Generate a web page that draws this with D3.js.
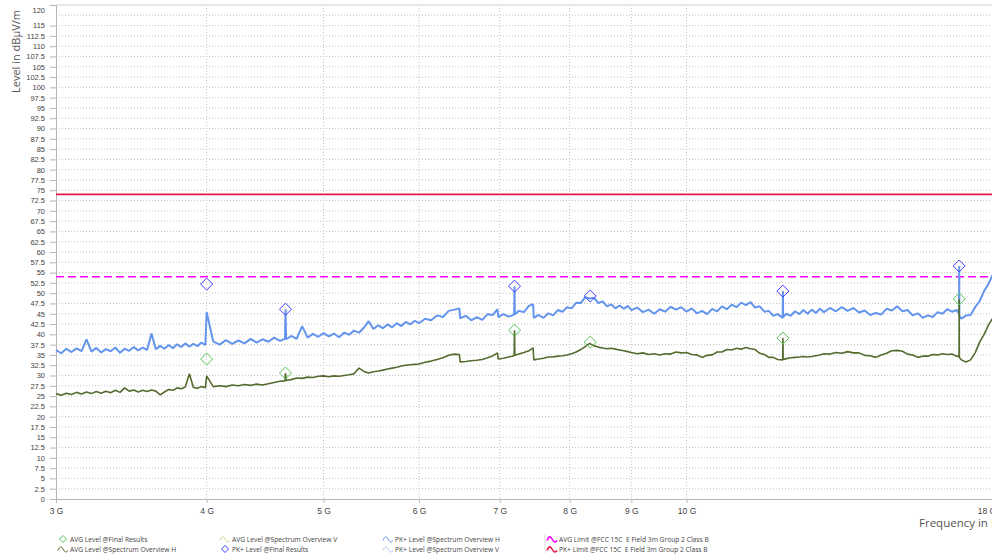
<!DOCTYPE html>
<html>
<head>
<meta charset="utf-8">
<title>Radiated emission 3 - 18 GHz</title>
<script src="https://cdn.jsdelivr.net/npm/d3@7"></script>
<style>
  body { margin: 0; background: #fff; }
  svg { display: block; font-family: "Liberation Sans", Arial, sans-serif; }
  .grid line { stroke: #c4c4c4; stroke-dasharray: 1, 2; }
  .axis text { fill: #444; font-size: 7.5px; }
  .xaxis text { font-size: 8.5px; }
  .axis line, .axis path { stroke: #b5b5b5; }
  .legend text { font-family: "Open Sans", sans-serif; font-size: 6.7px; fill: #444; white-space: pre; }
</style>
</head>
<body>
<svg id="chart" width="992" height="556"></svg>
<script>
// sweep frequencies in GHz (shared by both overview traces)
var sweepGHz = [
  3.00,3.03,3.06,3.09,3.12,3.15,3.18,3.21,3.24,3.27,3.30,3.33,3.36,3.39,3.42,3.45,3.48,3.51,3.54,3.57,3.60,3.63,3.66,3.69,3.72,3.75,3.78,3.81,3.84,3.87,3.90,3.93,3.96,3.99,
  4.00,4.05,4.10,4.15,4.20,4.25,4.30,4.35,4.40,4.45,4.50,4.55,4.60,4.645,4.65,4.655,4.70,4.75,4.80,4.85,4.90,4.95,5.00,5.05,5.10,5.15,5.20,5.25,5.30,5.35,5.40,5.45,5.50,5.55,5.60,5.65,5.70,5.75,5.80,5.85,5.90,5.95,
  6.00,6.07,6.14,6.21,6.28,6.35,6.42,6.48,6.49,6.56,6.63,6.70,6.77,6.84,6.91,6.97,6.98,7.05,7.12,7.195,7.20,7.205,7.26,7.33,7.40,7.46,7.47,7.54,7.61,7.68,7.75,7.82,7.89,7.96,8.03,8.10,8.17,8.24,8.31,8.38,8.45,8.52,8.59,8.66,8.73,8.80,8.87,8.94,
  9.0,9.1,9.2,9.3,9.4,9.5,9.6,9.7,9.8,9.9,10.0,10.1,10.2,10.3,10.4,10.5,10.6,10.7,10.8,10.9,11.0,11.1,11.2,11.3,11.4,11.5,11.6,11.7,11.8,11.9,12.015,12.02,12.025,12.1,12.2,12.3,12.4,12.5,12.6,12.7,12.8,12.9,
  13.0,13.15,13.3,13.45,13.6,13.75,13.9,14.05,14.2,14.35,14.5,14.65,14.8,14.95,15.1,15.25,15.4,15.55,15.7,15.85,16.0,16.15,16.3,16.45,16.6,16.75,16.825,16.83,16.835,16.9,17.05,17.2,17.35,17.5,17.65,17.8,17.95,18.0
];

// PK+ Level @Spectrum Overview H (dBµV/m)
var pkH = [
  36.2,35.4,36.5,35.7,36.6,35.9,38.8,35.8,36.7,35.6,36.4,35.9,36.8,35.5,36.5,36.0,36.9,36.1,36.8,36.2,40.2,36.4,37.2,36.5,37.4,36.6,37.6,36.9,37.8,37.0,37.7,37.1,38.0,37.4,
  45.4,38.3,37.5,38.6,37.7,38.5,37.8,38.9,38.0,38.8,38.2,39.2,38.4,38.9,46.1,38.8,39.6,38.9,42.0,39.2,40.1,39.4,40.3,39.5,40.2,39.3,40.4,39.9,40.9,40.4,41.6,43.2,41.3,42.2,41.5,42.4,41.7,42.7,42.0,43.0,42.4,43.3,
  42.7,43.8,43.4,44.6,44.2,45.7,46.0,46.3,43.9,44.5,43.4,44.2,43.5,44.9,44.7,46.1,44.2,44.9,44.3,44.8,51.7,44.9,45.7,45.4,46.9,47.3,44.0,44.7,44.0,45.1,44.6,45.9,45.5,46.6,46.3,47.7,47.6,49.0,48.7,48.9,47.6,48.0,46.8,47.3,46.3,47.0,46.2,46.9,
  45.9,46.5,45.4,46.0,45.0,46.1,45.5,46.7,46.0,46.6,45.5,46.3,45.1,45.7,44.9,46.2,45.6,46.8,46.1,47.2,46.6,47.7,47.1,47.8,46.5,46.8,45.5,45.7,44.5,44.9,44.0,50.5,44.2,45.0,44.5,45.6,44.9,45.9,45.0,46.0,45.2,46.2,
  45.4,46.4,45.6,46.6,45.7,46.4,45.3,45.8,44.7,45.2,44.8,46.2,45.8,46.8,45.6,45.9,44.6,45.1,44.0,44.6,44.2,45.4,45.0,46.1,45.5,45.9,45.0,56.6,44.5,43.8,44.6,44.7,46.6,48.1,50.5,52.3,54.6,55.0
];

// AVG Level @Spectrum Overview H (dBµV/m)
var avgH = [
  25.6,25.2,25.7,25.4,25.9,25.5,26.0,25.6,26.1,25.7,26.2,25.8,26.4,25.9,27.0,26.2,26.5,26.0,26.4,26.1,26.5,26.2,25.3,26.0,26.6,26.4,27.0,26.8,27.2,30.4,27.1,26.9,27.3,27.0,
  29.9,27.3,27.5,27.3,27.7,27.5,27.8,27.6,27.9,27.7,28.0,28.3,28.6,28.7,30.6,28.8,29.0,29.4,29.3,29.6,29.5,29.8,29.9,29.7,29.9,29.8,30.0,30.2,30.4,31.8,31.0,30.6,30.9,31.1,31.3,31.6,31.8,32.0,32.3,32.5,32.6,32.7,
  32.8,33.2,33.5,33.9,34.3,34.9,35.2,35.1,33.3,33.4,33.6,33.7,33.9,34.3,34.8,35.5,34.0,34.2,34.5,34.8,41.0,34.9,35.2,35.6,36.0,36.7,33.8,34.0,34.2,34.5,34.5,34.7,34.8,35.0,35.3,35.7,36.3,37.0,37.8,37.2,36.9,36.7,36.5,36.6,36.4,36.2,36.0,35.8,
  35.6,35.3,35.5,35.1,35.3,35.0,35.3,35.2,35.7,35.5,35.6,35.1,35.0,34.4,34.9,35.0,35.7,35.7,36.3,36.2,36.6,36.4,36.8,36.5,36.3,35.4,35.1,34.4,34.4,33.9,33.8,39.1,33.9,34.1,34.3,34.4,34.5,34.6,34.5,34.6,34.8,35.0,
  35.3,35.2,35.6,35.4,35.8,35.5,35.5,34.9,34.8,34.4,35.0,35.4,36.0,36.1,35.9,35.2,35.0,34.4,34.7,34.7,35.1,35.0,35.3,35.1,35.2,34.7,34.6,48.6,34.4,33.8,33.3,33.8,35.5,38.1,40.0,42.3,44.0,44.4
];

// final results
var finalGHz = [4.00, 4.65, 7.20, 8.32, 12.02, 16.83];
var finalPk  = [52.2, 46.1, 51.7, 49.3, 50.5, 56.6];
var finalAvg = [34.0, 30.6, 41.0, 38.1, 39.1, 48.6];

// FCC 15C limits
var limitGHz = [3, 18];
var pkLimit  = [74, 74];
var avgLimit = [54, 54];

var freqTicks = [3, 4, 5, 6, 7, 8, 9, 10, 18];
var levelTicks = [0,2.5,5,7.5,10,12.5,15,17.5,20,22.5,25,27.5,30,32.5,35,37.5,40,42.5,45,47.5,50,52.5,55,57.5,60,62.5,65,67.5,70,72.5,75,77.5,80,82.5,85,87.5,90,92.5,95,97.5,100,102.5,105,107.5,110,112.5,115,120];
var gridLevels = [2.5,5,7.5,10,12.5,15,17.5,20,22.5,25,27.5,30,32.5,35,37.5,40,42.5,45,47.5,50,52.5,55,57.5,60,62.5,65,67.5,70,72.5,75,77.5,80,82.5,85,87.5,90,92.5,95,97.5,100,102.5,105,107.5,110,112.5,115,117.5];

var legendLabels = [
  "AVG Level @Final Results", "AVG Level @Spectrum Overview H",
  "AVG Level @Spectrum Overview V", "PK+ Level @Final Results",
  "PK+ Level @Spectrum Overview H", "PK+ Level @Spectrum Overview V",
  "AVG Limit @FCC 15C  E Field 3m Group 2 Class B", "PK+ Limit @FCC 15C  E Field 3m Group 2 Class B"
];
var legendKinds  = ["diamond", "wave", "wave", "diamond", "wave", "wave", "limit", "limit"];
var legendColors = ["#55c455", "#556b2f", "#c9d89a", "#3c3cff", "#6495ed", "#b7cdf3", "#ff00ff", "#e8174a"];

var svg = d3.select("#chart");
var plotL = 56, plotR = 994.4, plotT = 5, plotB = 499;

var x = d3.scaleLog().domain([3, 18]).range([plotL, plotR]);
var y = d3.scaleLinear().domain([0, 120]).range([plotB, plotT]);

// grid
svg.append("g").attr("class", "grid")
  .selectAll("line").data(gridLevels).enter().append("line")
  .attr("x1", plotL).attr("x2", 992)
  .attr("y1", function(d) { return y(d); }).attr("y2", function(d) { return y(d); });
svg.append("g").attr("class", "grid")
  .selectAll("line").data(freqTicks.filter(function(d) { return d > 3 && d < 18; })).enter().append("line")
  .attr("x1", function(d) { return x(d); }).attr("x2", function(d) { return x(d); })
  .attr("y1", plotT).attr("y2", plotB);

// frame
svg.append("line").attr("x1", plotL).attr("x2", 992).attr("y1", plotT).attr("y2", plotT).attr("stroke", "#cfcfcf");

// axes
var yAxis = svg.append("g").attr("class", "axis")
  .attr("transform", "translate(" + plotL + ",0)")
  .call(d3.axisLeft(y).tickValues(levelTicks).tickSize(6).tickPadding(5).tickFormat(d3.format("")));
yAxis.selectAll(".tick").filter(function(d) { return d === 120; }).each(function() {
  d3.select(this).select("line").remove();
  d3.select(this).select("text").attr("dy", "0.95em");
});

var xAxis = svg.append("g").attr("class", "axis xaxis")
  .attr("transform", "translate(0," + plotB + ")")
  .call(d3.axisBottom(x).tickValues(freqTicks).tickSize(4).tickPadding(5)
    .tickFormat(function(d) { return d + " G"; }));
xAxis.selectAll(".tick").filter(function(d) { return d === 18; }).select("text").attr("dx", "-8");

svg.append("text")
  .attr("transform", "translate(20,10) rotate(-90)")
  .attr("text-anchor", "end")
  .attr("font-family", "Open Sans, sans-serif")
  .attr("font-size", 11).attr("fill", "#555")
  .text("Level in dBµV/m");
svg.append("text")
  .attr("x", 919).attr("y", 527)
  .attr("font-family", "Open Sans, sans-serif")
  .attr("font-size", 11.5).attr("fill", "#555")
  .text("Frequency in Hz");

// limits
var lim = d3.line().x(function(d) { return x(d[0]); }).y(function(d) { return y(d[1]); });
svg.append("path").datum(d3.zip(limitGHz, avgLimit)).attr("d", lim)
  .attr("fill", "none").attr("stroke", "#ff00ff").attr("stroke-width", 1.6).attr("stroke-dasharray", "8,4");
svg.append("path").datum(d3.zip(limitGHz, pkLimit)).attr("d", lim)
  .attr("fill", "none").attr("stroke", "#e8174a").attr("stroke-width", 1.6);

// traces
var trace = d3.line().x(function(d) { return x(d[0]); }).y(function(d) { return y(d[1]); });
svg.append("path").datum(d3.zip(sweepGHz, pkH)).attr("d", trace)
  .attr("fill", "none").attr("stroke", "#6495ed").attr("stroke-width", 2).attr("stroke-linejoin", "bevel");
svg.append("path").datum(d3.zip(sweepGHz, avgH)).attr("d", trace)
  .attr("fill", "none").attr("stroke", "#556b2f").attr("stroke-width", 1.6).attr("stroke-linejoin", "bevel");

// final results markers
var diamond = "M0,-6L6,0L0,6L-6,0Z";
svg.append("g").selectAll("path").data(d3.zip(finalGHz, finalAvg)).enter().append("path")
  .attr("d", diamond).attr("fill", "none").attr("stroke", "#55c455").attr("stroke-width", 1)
  .attr("transform", function(d) { return "translate(" + x(d[0]) + "," + y(d[1]) + ")"; });
svg.append("g").selectAll("path").data(d3.zip(finalGHz, finalPk)).enter().append("path")
  .attr("d", diamond).attr("fill", "none").attr("stroke", "#3c3cff").attr("stroke-width", 1)
  .attr("transform", function(d) { return "translate(" + x(d[0]) + "," + y(d[1]) + ")"; });

// legend
var colX = [58, 220, 383, 547], rowY = [539, 549];
var legend = svg.append("g").attr("class", "legend");
legend.append("line").attr("x1", 545).attr("x2", 545).attr("y1", 534).attr("y2", 553).attr("stroke", "#dddddd");
legendLabels.forEach(function(label, i) {
  var gx = colX[Math.floor(i / 2)], gy = rowY[i % 2];
  var g = legend.append("g").attr("transform", "translate(" + gx + "," + gy + ")");
  if (legendKinds[i] === "diamond") {
    g.append("path").attr("d", "M5,-3.5L8.5,0L5,3.5L1.5,0Z").attr("fill", "none").attr("stroke", legendColors[i]);
  } else {
    g.append("path").attr("d", "M0,1.5Q2.5,-5 5,0T10,1.5").attr("fill", "none")
      .attr("stroke", legendColors[i]).attr("stroke-width", legendKinds[i] === "limit" ? 1.6 : 1);
  }
  g.append("text").attr("x", 12).attr("y", 2.5).text(label);
});
</script>
</body>
</html>
